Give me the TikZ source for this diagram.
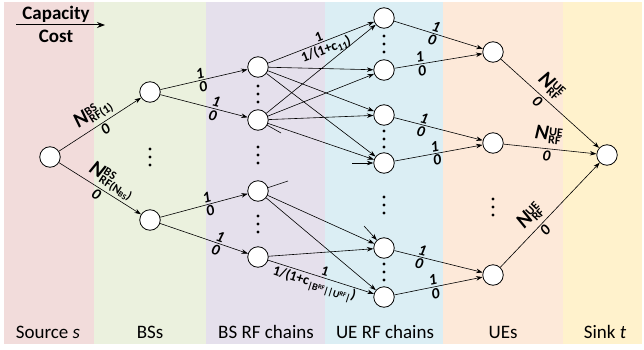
\documentclass[tikz,border=0pt]{standalone}
\usepackage{fontspec}
\setmainfont{Carlito}
\usetikzlibrary{arrows.meta}
\definecolor{cPink}{HTML}{F2DCDB}
\definecolor{cGreen}{HTML}{EBF1DE}
\definecolor{cLav}{HTML}{E5E0EC}
\definecolor{cBlue}{HTML}{DBEEF4}
\definecolor{cPeach}{HTML}{FDE9D9}
\definecolor{cYel}{HTML}{FFF2CC}
\newcommand{\NNlab}[2]{\textbf{\textit{N}}\kern0.3pt\raisebox{-3.5pt}{\fontsize{12}{12}\selectfont\bfseries\begin{tabular}[b]{@{}l@{}}#1\\[-3.5pt]#2\end{tabular}}}
\newcommand{\csub}[1]{\raisebox{-3pt}{\fontsize{10}{10}\selectfont #1}}
\newcommand{\csup}[1]{\raisebox{3pt}{\fontsize{6.5}{6.5}\selectfont #1}}
\newcommand{\dotcol}[2]{\foreach \d in {-1,0,1}{\fill ({#1},{#2+8*\d}) circle (1.7pt);}}
\begin{document}
\begin{tikzpicture}[x=1pt,y=-1pt,
  vtx/.style={circle, draw, fill=white, minimum size=20.5pt, inner sep=0pt, line width=0.8pt},
  arr/.style={line width=0.6pt, -{Stealth[length=6.5pt,width=4.5pt]}},
  plain/.style={line width=0.6pt},
  lab/.style={font=\fontsize{15.5}{15.5}\selectfont\bfseries\itshape, inner sep=1.5pt, sloped},
  clab/.style={font=\fontsize{14}{14}\selectfont\bfseries, inner sep=1.5pt, sloped},
  nlab/.style={font=\fontsize{21}{21}\selectfont, inner sep=1pt, sloped},
  band/.style={font=\fontsize{19}{19}\selectfont, anchor=base}]
\useasboundingbox (0,0) rectangle (644,350);
\fill[white] (0,0) rectangle (644,350);
% bands
\fill[cPink] (4,2) rectangle (94,344);
\fill[cGreen] (94,2) rectangle (206,344);
\fill[cLav] (206,2) rectangle (325,344);
\fill[cBlue] (325,2) rectangle (443,344);
\fill[cPeach] (443,2) rectangle (563,344);
\fill[cYel] (563,2) rectangle (642,344);
% legend
\node[font=\fontsize{19}{19}\selectfont\bfseries] (capt) at (56,14) {Capacity};
\node[font=\fontsize{19}{19}\selectfont\bfseries] (cost) at (56,36) {Cost};
\coordinate (la) at (16,25);
\coordinate (lb) at (105,25);
\draw[line width=1pt, -{Stealth[length=8pt,width=6pt]}] (la) -- (lb);
% column labels
\node[band] (ls) at (48,338) {Source \textit{s}};
\node[band] (lbs) at (150,338) {BSs};
\node[band] (lrf) at (266,338) {BS RF chains};
\node[band] (lue) at (385,338) {UE RF chains};
\node[band] (lu) at (503,338) {UEs};
\node[band] (lt) at (605,338) {Sink \textit{t}};
% nodes
\node[vtx] (s) at (50,157) {};
\node[vtx] (bs1) at (150,92) {};
\node[vtx] (bsn) at (150,220) {};
\node[vtx] (rf1) at (258,67) {};
\node[vtx] (rf2) at (258,120) {};
\node[vtx] (rf3) at (258,191) {};
\node[vtx] (rf4) at (258,257) {};
\node[vtx] (ur1) at (384,18) {};
\node[vtx] (ur2) at (384,70) {};
\node[vtx] (ur3) at (384,115) {};
\node[vtx] (ur4) at (384,163) {};
\node[vtx] (ur5) at (384,248) {};
\node[vtx] (ur6) at (384,297) {};
\node[vtx] (u1) at (493,52) {};
\node[vtx] (u2) at (493,143) {};
\node[vtx] (u3) at (493,275) {};
\node[vtx] (t) at (607,155) {};
% dots
\dotcol{150}{157}
\dotcol{258}{94}
\dotcol{258}{155}
\dotcol{258}{224}
\dotcol{384}{44}
\dotcol{384}{139}
\dotcol{384}{205}
\dotcol{384}{272}
\dotcol{493}{207}
% source edges
\draw[arr] (s) -- node[nlab, above, pos=0.5] {\NNlab{BS}{RF(1)}} node[lab, below, pos=0.52] {0} (bs1);
\draw[arr] (s) -- node[nlab, above, pos=0.56] {\NNlab{BS}{RF(N\textsubscript{BS})}} node[lab, below, pos=0.5] {0} (bsn);
% BS -> BS RF
\draw[arr] (bs1) -- node[lab, above, pos=0.47] {1} node[lab, below, pos=0.47] {0} (rf1);
\draw[arr] (bs1) -- node[lab, above, pos=0.62] {1} node[lab, below, pos=0.62] {0} (rf2);
\draw[arr] (bsn) -- node[lab, above, pos=0.55] {1} node[lab, below, pos=0.55] {0} (rf3);
\draw[arr] (bsn) -- node[lab, above, pos=0.66] {1} node[lab, below, pos=0.66] {0} (rf4);
% BS RF -> UE RF
\draw[arr] (rf1) -- node[clab, above, pos=0.5] {1} node[clab, below, pos=0.52] {1/(1+c\csub{11})} (ur1);
\draw[arr] (rf1) -- (ur2);
\draw[arr] (rf1) -- (ur3);
\draw[arr] (rf1) -- (ur4);
\draw[arr] (rf2) -- (ur1);
\draw[arr] (rf2) -- (ur2);
\draw[arr] (rf2) -- (ur3);
\draw[arr] (rf2) -- (ur4);
\draw[arr] (rf3) -- (ur5);
\draw[arr] (rf3) -- (ur6);
\draw[arr] (rf4) -- (ur5);
\draw[arr] (rf4) -- node[clab, above, pos=0.52] {1} node[clab, below, pos=0.46] {1/(1+c\csub{|B\csup{RF}||U\csup{RF}|})} (ur6);
% stubs
\coordinate (st1) at (281,133);
\coordinate (st2) at (288,181);
\coordinate (st3) at (352,163);
\coordinate (st4) at (364,226);
\draw[plain] (rf2) -- (st1);
\draw[plain] (rf3) -- (st2);
\draw[arr] (st3) -- (ur4);
\draw[arr] (st4) -- (ur5);
% UE RF -> UE
\draw[arr] (ur1) -- node[lab, above, pos=0.45] {1} node[lab, below, pos=0.45] {0} (u1);
\draw[arr] (ur2) -- node[lab, above, pos=0.3] {1} node[lab, below, pos=0.3] {0} (u1);
\draw[arr] (ur3) -- node[lab, above, pos=0.32] {1} node[lab, below, pos=0.32] {0} (u2);
\draw[arr] (ur4) -- node[lab, above, pos=0.47] {1} node[lab, below, pos=0.47] {0} (u2);
\draw[arr] (ur5) -- node[lab, above, pos=0.3] {1} node[lab, below, pos=0.3] {0} (u3);
\draw[arr] (ur6) -- node[lab, above, pos=0.45] {1} node[lab, below, pos=0.45] {0} (u3);
% UE -> sink
\draw[arr] (u1) -- node[nlab, above, pos=0.42] {\NNlab{UE}{RF}} node[lab, below, pos=0.42] {0} (t);
\draw[arr] (u2) -- node[nlab, above, pos=0.47] {\NNlab{UE}{RF}} node[lab, below, pos=0.47] {0} (t);
\draw[arr] (u3) -- node[nlab, above, pos=0.4] {\NNlab{UE}{RF}} node[lab, below, pos=0.4] {0} (t);
\end{tikzpicture}
\end{document}
